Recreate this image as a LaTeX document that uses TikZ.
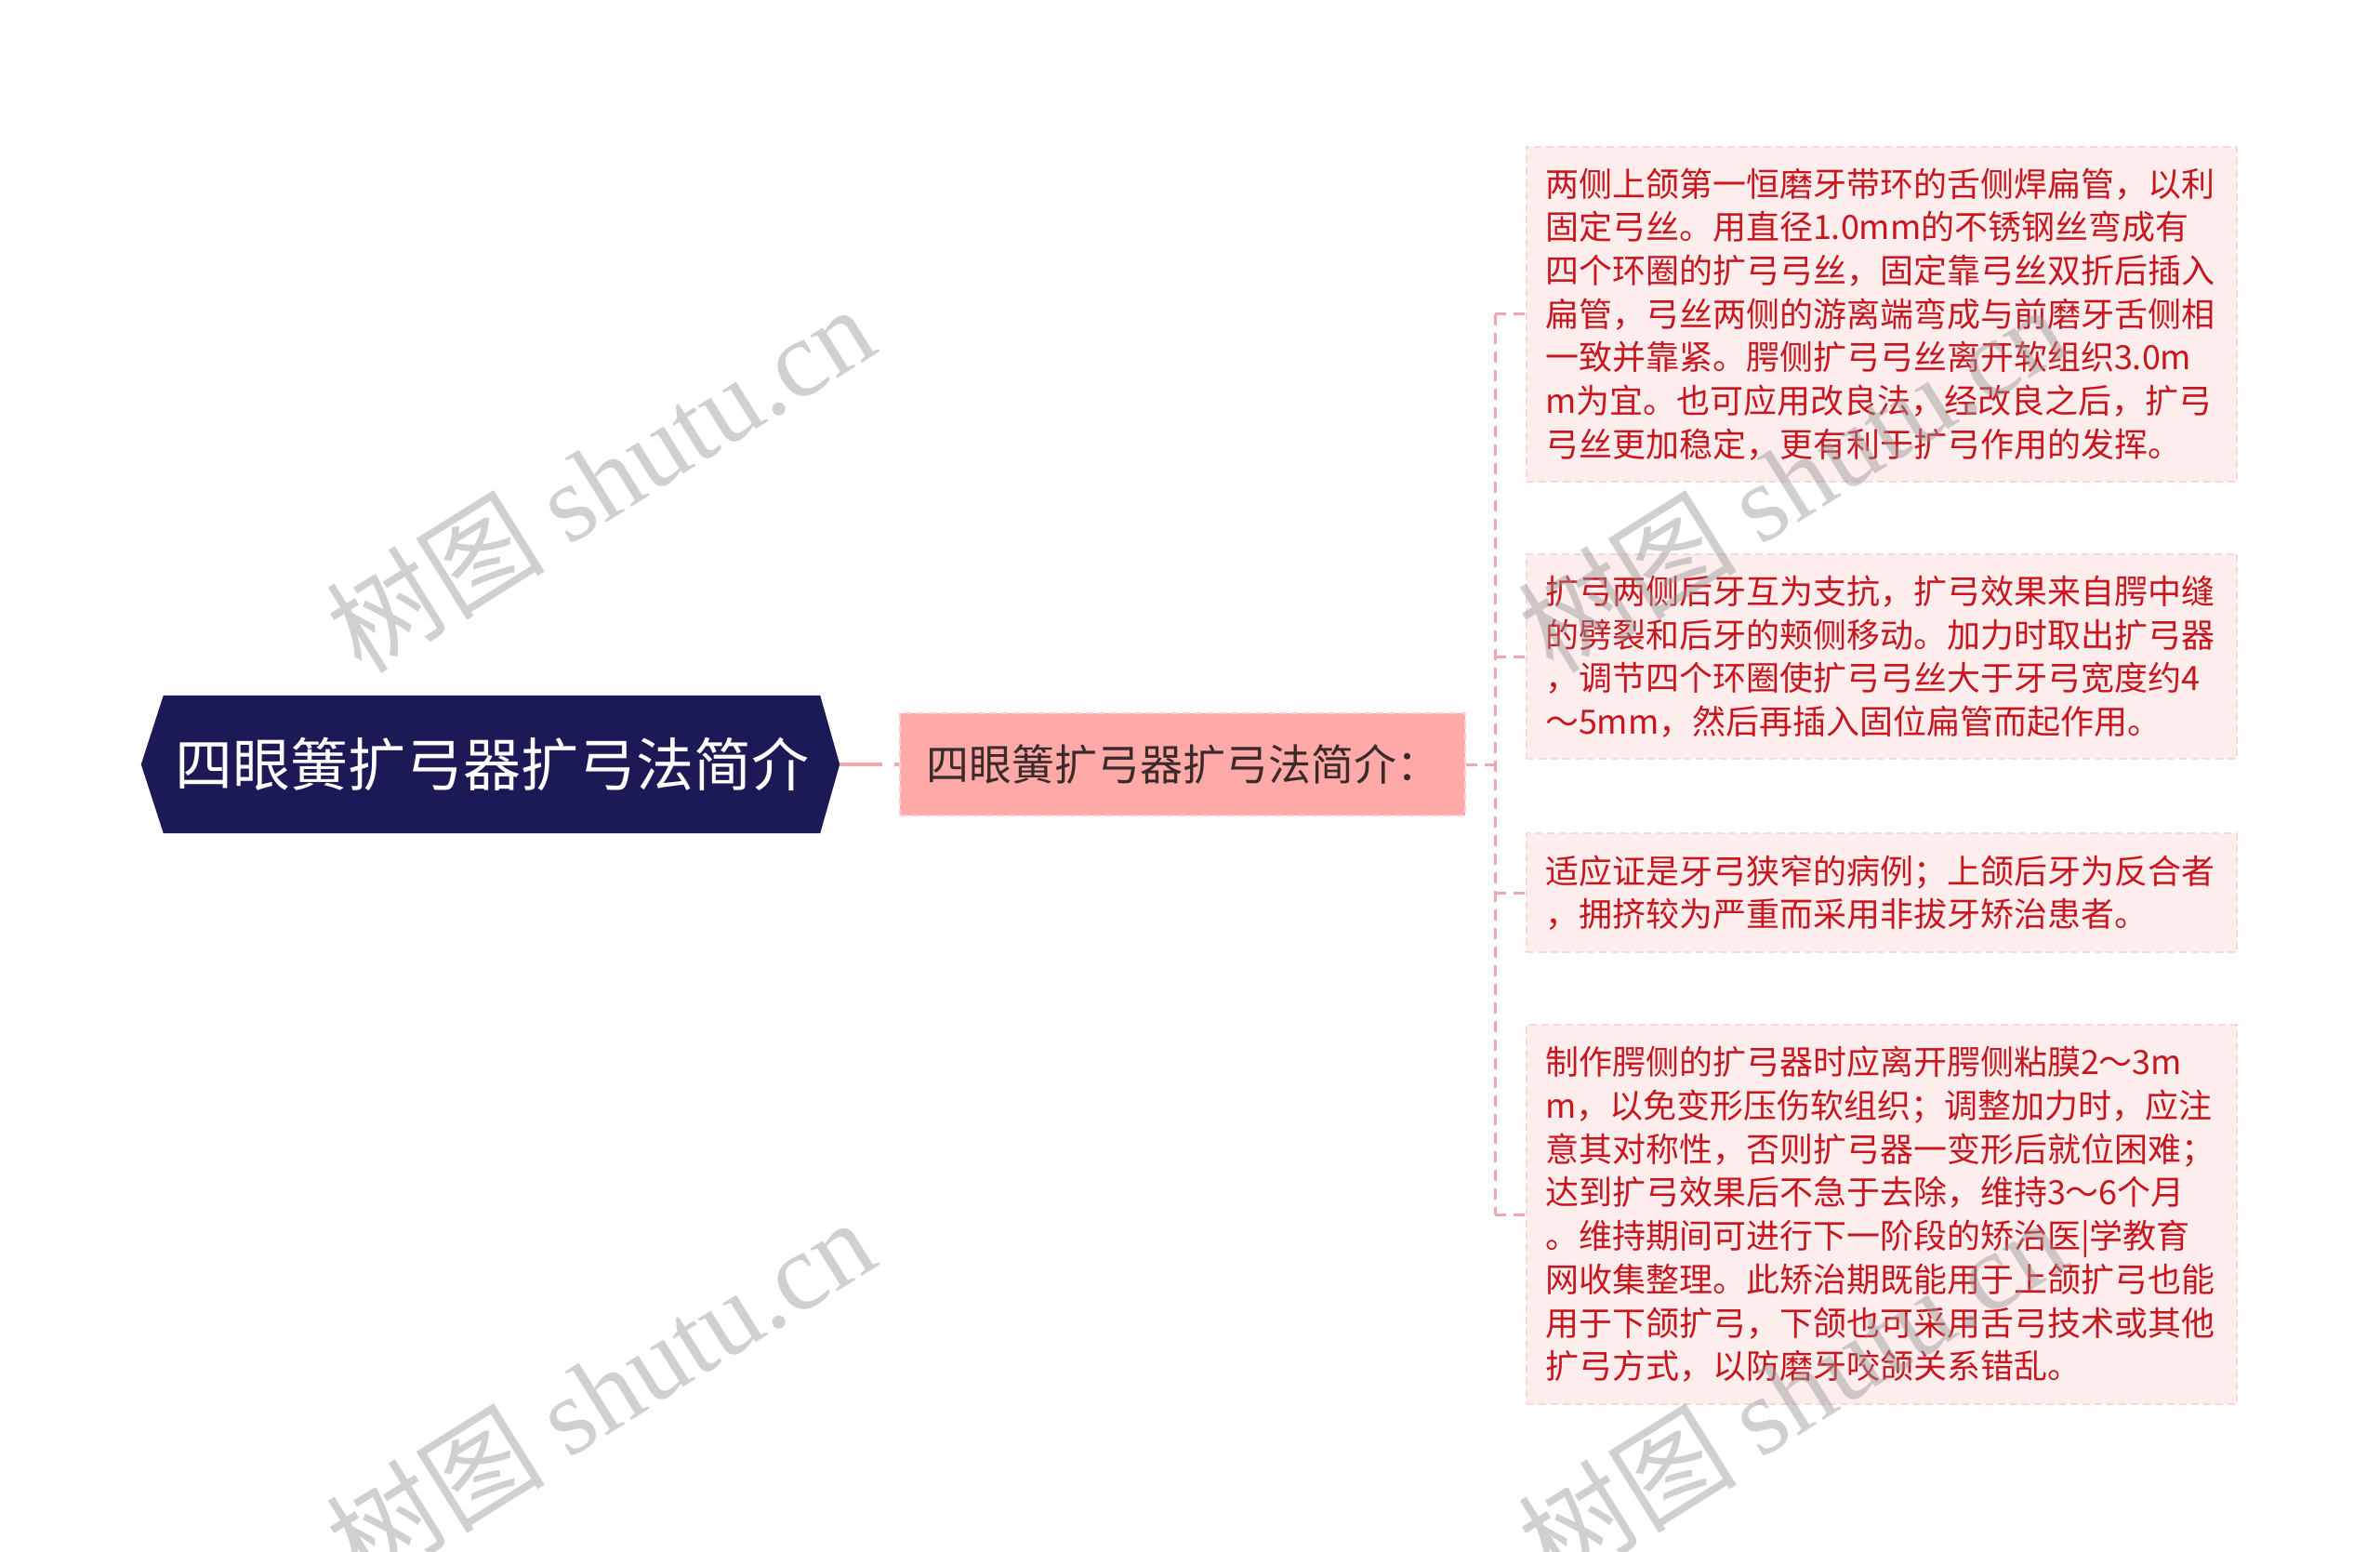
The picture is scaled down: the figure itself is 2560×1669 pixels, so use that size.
\documentclass[tikz,border=0pt]{standalone}
\usepackage{fontspec}
\setmainfont{Noto Sans CJK SC}
\newfontfamily\wmlatin{Liberation Serif}
\usetikzlibrary{calc,backgrounds}
\definecolor{rootfill}{RGB}{27,26,87}
\definecolor{midfill}{RGB}{255,170,168}
\definecolor{midborder}{RGB}{255,205,205}
\definecolor{midtext}{RGB}{58,42,42}
\definecolor{leaffill}{RGB}{253,237,237}
\definecolor{leafborder}{RGB}{250,215,215}
\definecolor{leaftext}{RGB}{200,22,30}
\definecolor{linkcol}{RGB}{240,168,172}
\definecolor{wmcol}{RGB}{150,150,150}
\tikzset{
  rootbox/.style={minimum width=706pt, minimum height=148pt, inner sep=0pt, text=white, font=\fontsize{62}{70}\selectfont},
  midbox/.style={draw=midborder, line width=2pt, dash pattern=on 8pt off 5pt, fill=midfill, text=midtext, minimum width=608pt, minimum height=110pt, inner sep=0pt, font=\fontsize{46}{54}\selectfont},
  leafbox/.style={draw=leafborder, line width=2pt, dash pattern=on 8pt off 5pt, fill=leaffill, text=leaftext, font=\fontsize{36}{46.7}\selectfont, align=left, text width=724pt, inner xsep=20pt, inner ysep=23pt, anchor=west},
  mainlink/.style={draw=linkcol, line width=3.5pt, dash pattern=on 46pt off 13pt},
  branchlink/.style={draw=linkcol, line width=3pt, dash pattern=on 12pt off 8pt},
  wmark/.style={text=wmcol, opacity=0.45, font=\fontsize{118}{130}\selectfont, rotate=32, inner sep=0pt}
}
\begin{document}
\begin{tikzpicture}[x=1pt,y=-1pt]
\path[use as bounding box] (0,0) rectangle (2560,1669);

\node[rootbox] (root) at (529,822) {四眼簧扩弓器扩弓法简介};
\coordinate (roottip) at ($(root.east)+(21,0)$);
\coordinate (rootltip) at ($(root.west)+(-24,0)$);
\begin{scope}[on background layer]
\fill[rootfill] (root.north west) -- (root.north east) -- (roottip) -- (root.south east) -- (root.south west) -- (rootltip) -- cycle;
\end{scope}

\node[midbox] (mid) at (1272,822) {四眼簧扩弓器扩弓法简介：};

\node[leafbox] (leaf1) at (1641,338) {两侧上颌第一恒磨牙带环的舌侧焊扁管，以利\\固定弓丝。用直径1.0mm的不锈钢丝弯成有\\四个环圈的扩弓弓丝，固定靠弓丝双折后插入\\扁管，弓丝两侧的游离端弯成与前磨牙舌侧相\\一致并靠紧。腭侧扩弓弓丝离开软组织3.0m\\m为宜。也可应用改良法，经改良之后，扩弓\\弓丝更加稳定，更有利于扩弓作用的发挥。};
\node[leafbox] (leaf2) at (1641,706) {扩弓两侧后牙互为支抗，扩弓效果来自腭中缝\\的劈裂和后牙的颊侧移动。加力时取出扩弓器\\，调节四个环圈使扩弓弓丝大于牙弓宽度约4\\～5mm，然后再插入固位扁管而起作用。};
\node[leafbox] (leaf3) at (1641,960) {适应证是牙弓狭窄的病例；上颌后牙为反合者\\，拥挤较为严重而采用非拔牙矫治患者。};
\node[leafbox] (leaf4) at (1641,1306) {制作腭侧的扩弓器时应离开腭侧粘膜2～3m\\m，以免变形压伤软组织；调整加力时，应注\\意其对称性，否则扩弓器一变形后就位困难；\\达到扩弓效果后不急于去除，维持3～6个月\\。维持期间可进行下一阶段的矫治医|学教育\\网收集整理。此矫治期既能用于上颌扩弓也能\\用于下颌扩弓，下颌也可采用舌弓技术或其他\\扩弓方式，以防磨牙咬颌关系错乱。};

\coordinate (junc) at (1608,822);
\draw[mainlink] (roottip) -- (mid.west);
\draw[branchlink] (mid.east) -- (junc);
\draw[branchlink] (junc |- leaf1.west) -- (junc |- leaf4.west);
\draw[branchlink] (junc |- leaf1.west) -- (leaf1.west);
\draw[branchlink] (junc |- leaf2.west) -- (leaf2.west);
\draw[branchlink] (junc |- leaf3.west) -- (leaf3.west);
\draw[branchlink] (junc |- leaf4.west) -- (leaf4.west);

\node[wmark] (wm1) at (645,514) {树图 {\wmlatin shutu.cn}};
\node[wmark] (wm2) at (645,1496) {树图 {\wmlatin shutu.cn}};
\node[wmark] (wm3) at (1927,514) {树图 {\wmlatin shutu.cn}};
\node[wmark] (wm4) at (1927,1496) {树图 {\wmlatin shutu.cn}};
\end{tikzpicture}
\end{document}
